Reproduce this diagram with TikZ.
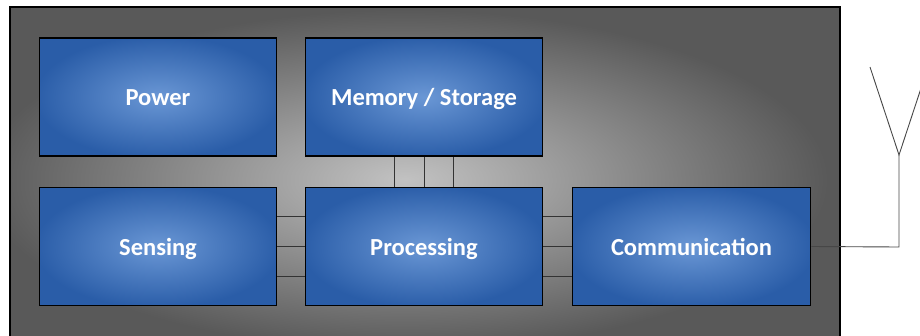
\documentclass[tikz,border=0pt]{standalone}
\usepackage{fontspec}
\setmainfont{Carlito}
\definecolor{bcenter}{HTML}{6A97D5}
\definecolor{bedge}{HTML}{2A5DA8}
\definecolor{gcenter}{HTML}{C2C2C2}
\definecolor{gedge}{HTML}{595959}
\definecolor{wirec}{HTML}{333333}
\pgfdeclareradialshading{bluebox}{\pgfpoint{0bp}{0bp}}{color(0bp)=(bcenter); color(26bp)=(bedge); color(50bp)=(bedge)}
\pgfdeclareradialshading{graybg}{\pgfpoint{0bp}{0bp}}{color(0bp)=(gcenter); color(23bp)=(gedge); color(50bp)=(gedge)}
\tikzset{
  block/.style={draw=black, line width=1.6pt, shading=bluebox, minimum width=237pt, minimum height=118pt, inner sep=0pt,
    text height=17pt, text depth=0pt,
    text=white, font=\fontsize{24.5}{29}\selectfont\bfseries},
  wire/.style={draw=wirec, line width=0.9pt},
  ant/.style={draw=wirec!90!white, line width=0.9pt}
}
\begin{document}
\begin{tikzpicture}[x=1pt,y=-1pt]
\useasboundingbox (0,0) rectangle (920,335);
\clip (0,0) rectangle (920,335);
% board
\begin{scope}
\clip (10,7) rectangle (840,350);
\shade[shading=graybg] (-55,-5) rectangle (865,365);
\end{scope}
\node[draw=black, line width=1.8pt, minimum width=830pt, minimum height=343pt, inner sep=0pt] (board) at (425,178.5) {};
% blocks
\node[block] (power) at (158,97) {Power};
\node[block] (mem) at (424,97) {Memory / Storage};
\node[block] (sens) at (158,246.5) {Sensing};
\node[block] (proc) at (424,246.5) {Processing};
\node[block, minimum width=238pt] (comm) at (691.5,246.5) {Communication};
% buses
\foreach \d in {-29.5,0,29.5}{
  \draw[wire] ([xshift=\d pt]mem.south) -- ([xshift=\d pt]proc.north);
}
\foreach \d in {-30,0,30}{
  \draw[wire] ([yshift=\d pt]sens.east) -- ([yshift=\d pt]proc.west);
  \draw[wire] ([yshift=\d pt]proc.east) -- ([yshift=\d pt]comm.west);
}
% antenna
\coordinate (feed) at (899,247);
\coordinate (apex) at (899,155);
\coordinate (armL) at (870,67);
\coordinate (armR) at (928,67);
\draw[ant] (comm.east) -- (feed) -- (apex);
\draw[ant] (armL) -- (apex) -- (armR);
\end{tikzpicture}
\end{document}
